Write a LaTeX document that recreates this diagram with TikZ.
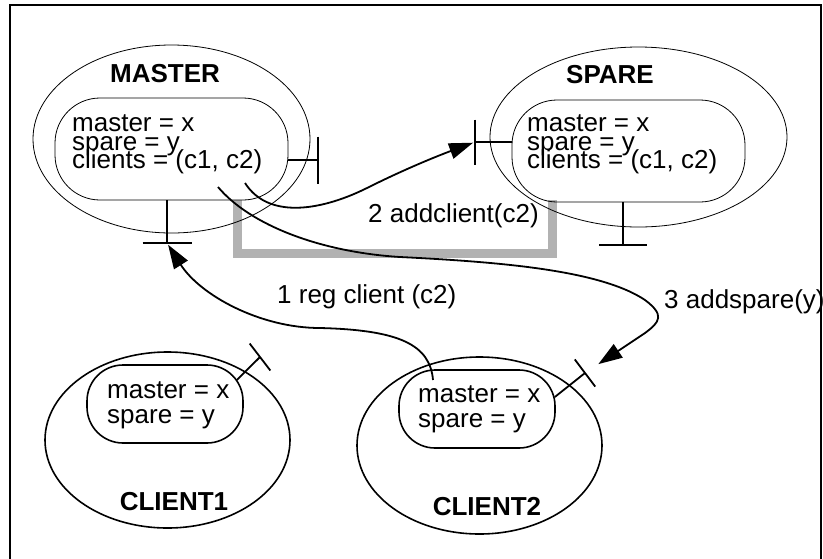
\documentclass[tikz,border=0pt]{standalone}
\usepackage{fontspec}
\setmainfont{Liberation Sans}
\usetikzlibrary{shapes.geometric,arrows.meta}
\definecolor{rail}{gray}{0.7}
\setlength{\lineskiplimit}{-100pt}

\begin{document}
\begin{tikzpicture}[x=1pt,y=-1pt,
outer node/.style={draw,ellipse,inner sep=0pt,line width=0.8pt},
client node/.style={draw,ellipse,inner sep=0pt,line width=1.6pt},
store node/.style={draw,rectangle,rounded corners=45pt,inner sep=0pt,line width=0.8pt,
  minimum width=233pt,minimum height=102pt},
cstore node/.style={draw,rectangle,rounded corners=36pt,inner sep=0pt,line width=1.6pt,
  minimum width=156pt,minimum height=78pt},
proc title/.style={font=\fontsize{26}{26}\selectfont\bfseries,inner sep=0pt,anchor=base},
vars/.style={align=left,inner sep=0pt,anchor=base west,
  font=\fontsize{26}{18.5}\selectfont},
cvars/.style={align=left,inner sep=0pt,anchor=base west,
  font=\fontsize{26}{25.5}\selectfont},
msg text/.style={font=\fontsize{26}{26}\selectfont,inner sep=0pt,anchor=base west},
port line/.style={line width=1.8pt},
msg/.style={line width=1.8pt,-{Triangle[length=24pt,width=16pt]}}]
\useasboundingbox (0,0) rectangle (823,558);
\draw[line width=1.5pt] (10,560) -- (10,5) -- (821,5) -- (821,560);
\draw[rail,line width=9pt] (237,200) -- (237,253) -- (552,253) -- (552,200);

% master and spare
\node[outer node,minimum width=277pt,minimum height=188pt] (master) at (171.5,139) {};
\node[store node] (mstore) at (171.5,149) {};
\node[proc title] (mtitle) at (165,82) {MASTER};
\node[vars] (mvars) at (72,168.5) {master = x\\spare = y\\clients = (c1, c2)};

\node[outer node,minimum width=297pt,minimum height=180pt] (spare) at (638.5,137) {};
\node[store node] (sstore) at (628.5,151) {};
\node[proc title] (stitle) at (610,83) {SPARE};
\node[vars] (svars) at (527,168.5) {master = x\\spare = y\\clients = (c1, c2)};

% clients
\node[client node,minimum width=245pt,minimum height=176pt] (client1) at (167.5,440) {};
\node[cstore node] (c1store) at (165,404) {};
\node[cvars] (c1vars) at (107,423.5) {master = x\\spare = y};
\node[proc title] (c1title) at (174,510) {CLIENT1};

\node[client node,minimum width=245pt,minimum height=177pt] (client2) at (479.5,445.5) {};
\node[cstore node] (c2store) at (477,409) {};
\node[cvars] (c2vars) at (418,427.5) {master = x\\spare = y};
\node[proc title] (c2title) at (487,515) {CLIENT2};

% ports
\coordinate (mright) at (318,160);
\coordinate (mdown) at (167,243);
\coordinate (sleft) at (475,142);
\coordinate (sdown) at (623,245);
\coordinate (c1port) at (260,357);
\coordinate (c2port) at (585,373);
\draw[port line] (mright -| mstore.east) -- (mright);
\draw[port line] ([yshift=23.5pt]mright) -- ([yshift=-23.5pt]mright);
\draw[port line] (mdown |- mstore.south) -- (mdown);
\draw[port line] ([xshift=-24.5pt]mdown) -- ([xshift=24.5pt]mdown);
\draw[port line] (sleft -| sstore.west) -- (sleft);
\draw[port line] ([yshift=22.5pt]sleft) -- ([yshift=-22.5pt]sleft);
\draw[port line] (sdown |- sstore.south) -- (sdown);
\draw[port line] ([xshift=-24pt]sdown) -- ([xshift=24pt]sdown);
\draw[port line] ([shift={(-7pt,24pt)}]c1store.east) -- (c1port);
\draw[port line] ([shift={(127.5:17pt)}]c1port) -- ([shift={(-52.5:17pt)}]c1port);
\draw[port line] ([shift={(-1pt,12pt)}]c2store.east) -- (c2port);
\draw[port line] ([shift={(127:17pt)}]c2port) -- ([shift={(-53:17pt)}]c2port);

% messages
\coordinate (mc1) at (218,187);
\coordinate (mc2) at (245,183);
\coordinate (cmaster) at (433,380);
\draw[msg,shorten >=2pt] (cmaster) .. controls (430,345) and (400,330) .. (320,328)
  .. controls (260,328) and (200,295) .. (mdown);
\draw[msg,shorten >=2pt] (mc2) .. controls (270,222) and (327,208) .. (367,188)
  .. controls (407,168) and (440,155) .. (sleft);
\draw[msg,shorten >=16pt] (mc1) .. controls (250,225) and (320,252) .. (400,257)
  .. controls (500,262) and (600,270) .. (645,300)
  .. controls (665,315) and (660,322) .. (645,333) -- (c2port);
\node[msg text] (l1) at (277,303) {1 reg client (c2)};
\node[msg text] (l2) at (368,222) {2 addclient(c2)};
\node[msg text] (l3) at (664,308) {3 addspare(y)};
\end{tikzpicture}
\end{document}
